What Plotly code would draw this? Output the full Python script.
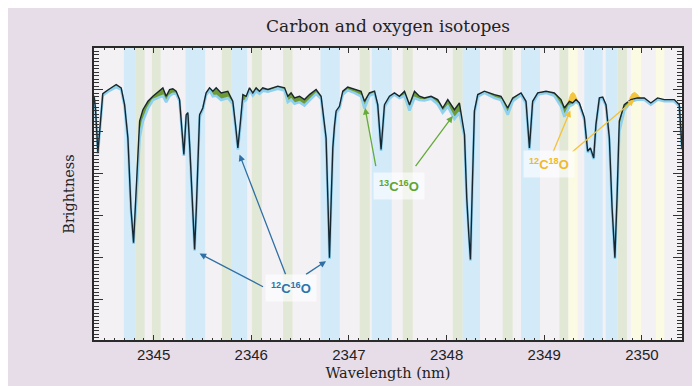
import plotly.graph_objects as go

# ---------------- data ----------------
wavelength = [
    2344.390, 2344.405, 2344.430, 2344.455, 2344.480, 2344.532, 2344.617, 2344.668, 2344.703, 2344.737,
    2344.768, 2344.795, 2344.814, 2344.832, 2344.857, 2344.891, 2344.942, 2344.993, 2345.061, 2345.095,
    2345.129, 2345.164, 2345.197, 2345.231, 2345.266, 2345.300, 2345.310, 2345.334, 2345.351, 2345.371,
    2345.397, 2345.420, 2345.438, 2345.453, 2345.471, 2345.504, 2345.538, 2345.573, 2345.607, 2345.641,
    2345.692, 2345.760, 2345.811, 2345.842, 2345.863, 2345.890, 2345.914, 2345.948, 2345.982, 2346.016,
    2346.050, 2346.085, 2346.118, 2346.170, 2346.221, 2346.272, 2346.341, 2346.374, 2346.408, 2346.443,
    2346.494, 2346.545, 2346.596, 2346.664, 2346.715, 2346.766, 2346.784, 2346.801, 2346.819, 2346.835,
    2346.852, 2346.869, 2346.903, 2346.937, 2346.988, 2347.057, 2347.124, 2347.159, 2347.210, 2347.262,
    2347.295, 2347.329, 2347.364, 2347.415, 2347.466, 2347.517, 2347.569, 2347.620, 2347.671, 2347.722,
    2347.773, 2347.841, 2347.909, 2347.960, 2348.012, 2348.080, 2348.131, 2348.183, 2348.206, 2348.227,
    2348.244, 2348.263, 2348.285, 2348.319, 2348.387, 2348.490, 2348.557, 2348.626, 2348.677, 2348.762,
    2348.813, 2348.848, 2348.881, 2348.933, 2349.018, 2349.103, 2349.171, 2349.206, 2349.257, 2349.291,
    2349.325, 2349.359, 2349.410, 2349.444, 2349.472, 2349.506, 2349.529, 2349.564, 2349.598, 2349.632,
    2349.666, 2349.694, 2349.723, 2349.745, 2349.768, 2349.819, 2349.886, 2349.955, 2350.024, 2350.091,
    2350.160, 2350.229, 2350.331, 2350.382, 2350.410,
]

observed = [
    0.985, 0.955, 0.850, 0.930, 0.990, 0.999, 1.012, 1.004, 0.964, 0.885,
    0.718, 0.635, 0.718, 0.806, 0.925, 0.952, 0.972, 0.984, 0.996, 1.004,
    0.984, 1.000, 1.002, 0.996, 0.976, 0.885, 0.845, 0.940, 0.945, 0.861,
    0.718, 0.619, 0.718, 0.806, 0.940, 0.956, 0.992, 1.004, 0.996, 1.004,
    0.992, 0.996, 0.972, 0.909, 0.861, 0.925, 0.988, 0.984, 1.004, 0.992,
    1.004, 0.996, 1.004, 1.000, 1.004, 1.008, 1.004, 0.984, 0.992, 0.980,
    0.984, 0.976, 0.988, 1.000, 0.984, 0.885, 0.742, 0.599, 0.742, 0.861,
    0.913, 0.949, 0.960, 0.996, 1.006, 1.000, 0.996, 0.972, 0.992, 0.996,
    0.964, 0.857, 0.964, 0.984, 0.992, 0.984, 0.996, 0.964, 0.996, 0.984,
    0.980, 0.984, 0.976, 0.956, 0.976, 0.952, 0.968, 0.893, 0.742, 0.655,
    0.595, 0.766, 0.949, 0.988, 0.996, 0.988, 0.984, 0.956, 0.980, 0.992,
    0.972, 0.861, 0.972, 0.992, 0.996, 0.992, 0.976, 0.956, 0.972, 0.968,
    0.976, 0.968, 0.933, 0.853, 0.861, 0.837, 0.917, 0.980, 0.982, 0.964,
    0.885, 0.718, 0.599, 0.742, 0.925, 0.964, 0.976, 0.980, 0.980, 0.968,
    0.980, 0.976, 0.976, 0.964, 0.860,
]

model = [
    0.982, 0.950, 0.846, 0.926, 0.986, 0.995, 1.006, 1.000, 0.960, 0.880,
    0.714, 0.632, 0.700, 0.770, 0.885, 0.925, 0.955, 0.975, 0.982, 0.985,
    0.970, 0.985, 0.990, 0.990, 0.972, 0.880, 0.842, 0.935, 0.940, 0.856,
    0.714, 0.616, 0.714, 0.800, 0.934, 0.952, 0.987, 0.998, 0.984, 0.985,
    0.975, 0.980, 0.966, 0.904, 0.857, 0.915, 0.970, 0.975, 0.998, 0.986,
    0.996, 0.990, 0.997, 0.995, 0.998, 1.002, 0.998, 0.970, 0.976, 0.966,
    0.970, 0.962, 0.974, 0.990, 0.978, 0.880, 0.738, 0.596, 0.738, 0.856,
    0.908, 0.944, 0.955, 0.988, 0.998, 0.992, 0.984, 0.955, 0.985, 0.991,
    0.960, 0.854, 0.958, 0.979, 0.988, 0.980, 0.985, 0.950, 0.980, 0.975,
    0.974, 0.978, 0.965, 0.945, 0.960, 0.930, 0.945, 0.888, 0.738, 0.650,
    0.592, 0.760, 0.944, 0.983, 0.992, 0.980, 0.975, 0.940, 0.972, 0.987,
    0.967, 0.857, 0.966, 0.988, 0.992, 0.985, 0.960, 0.935, 0.960, 0.964,
    0.972, 0.964, 0.928, 0.850, 0.857, 0.834, 0.912, 0.976, 0.978, 0.960,
    0.880, 0.714, 0.596, 0.738, 0.900, 0.950, 0.971, 0.976, 0.976, 0.964,
    0.976, 0.972, 0.972, 0.960, 0.856,
]

# 12C18O excess (yellow) patches
c18_patches = [
    {"wl": [2349.247, 2349.270, 2349.291, 2349.310, 2349.325, 2349.342],
     "low": [0.972, 0.970, 0.968, 0.972, 0.976, 0.972],
     "high": [0.972, 0.988, 0.993, 0.990, 0.982, 0.972]},
    {"wl": [2349.870, 2349.900, 2349.925, 2349.955, 2349.980],
     "low": [0.977, 0.978, 0.979, 0.980, 0.980],
     "high": [0.977, 0.990, 0.993, 0.988, 0.980]},
]

# background line windows
band_start = [2344.696, 2344.812, 2344.983, 2345.327, 2345.699, 2345.794, 2346.006, 2346.326,
              2346.709, 2347.111, 2347.234, 2347.551, 2348.063, 2348.165, 2348.574, 2348.762,
              2349.155, 2349.247, 2349.410, 2349.629, 2349.751, 2349.887, 2350.143]
band_end = [2344.812, 2344.908, 2345.072, 2345.528, 2345.794, 2345.958, 2346.108, 2346.422,
            2346.906, 2347.213, 2347.439, 2347.653, 2348.165, 2348.342, 2348.676, 2348.956,
            2349.247, 2349.342, 2349.598, 2349.751, 2349.846, 2349.990, 2350.229]
band_kind = ["12C16O", "13C16O", "13C16O", "12C16O", "13C16O", "12C16O", "13C16O", "13C16O",
             "12C16O", "13C16O", "12C16O", "13C16O", "13C16O", "12C16O", "13C16O", "12C16O",
             "13C16O", "12C18O", "12C16O", "12C16O", "13C16O", "12C18O", "12C18O"]

tick_values = [2345, 2346, 2347, 2348, 2349, 2350]
tick_labels = ["2345", "2346", "2347", "2348", "2349", "2350"]

# label positions and arrow (tail -> head) in data units
labels = [
    {"text": "<sup>12</sup>C<sup>16</sup>O", "kind": "12C16O", "x": 2346.41, "y": 0.528,
     "arrows": [((2346.136, 0.528), (2345.471, 0.609)),
                ((2346.357, 0.556), (2345.880, 0.845)),
                ((2346.545, 0.557), (2346.766, 0.591))]},
    {"text": "<sup>13</sup>C<sup>16</sup>O", "kind": "13C16O", "x": 2347.51, "y": 0.771,
     "arrows": [((2347.278, 0.814), (2347.165, 0.956)),
                ((2347.671, 0.814), (2348.063, 0.937))]},
    {"text": "<sup>12</sup>C<sup>18</sup>O", "kind": "12C18O", "x": 2349.05, "y": 0.823,
     "arrows": [((2349.086, 0.849), (2349.267, 0.950)),
                ((2349.273, 0.849), (2349.922, 0.976))]},
]

# ---------------- styling ----------------
band_colors = {"12C16O": "#d3eaf9", "13C16O": "#e1e8d5", "12C18O": "#fbfbe4"}
label_colors = {"12C16O": "#2b73ad", "13C16O": "#5ea52f", "12C18O": "#f0b92a"}
arrow_colors = {"12C16O": "#2f6fa3", "13C16O": "#66ab3a", "12C18O": "#f2c23a"}

fig = go.Figure()

fig.add_trace(go.Scatter(x=wavelength, y=observed, mode="lines",
                         line=dict(width=0, color="rgba(0,0,0,0)"),
                         hoverinfo="skip", showlegend=False))
fig.add_trace(go.Scatter(x=wavelength, y=model, mode="lines", fill="tonexty",
                         fillcolor="#6d9a34", line=dict(width=2.6, color="#8fd0ee"),
                         hoverinfo="skip", showlegend=False))

for p in c18_patches:
    fig.add_trace(go.Scatter(x=p["wl"], y=p["low"], mode="lines",
                             line=dict(width=0, color="rgba(0,0,0,0)"),
                             hoverinfo="skip", showlegend=False))
    fig.add_trace(go.Scatter(x=p["wl"], y=p["high"], mode="lines", fill="tonexty",
                             fillcolor="#f4c640", line=dict(width=1, color="#f4c640"),
                             hoverinfo="skip", showlegend=False))

fig.add_trace(go.Scatter(x=wavelength, y=observed, mode="lines",
                         line=dict(width=1.4, color="#17262f"),
                         hoverinfo="skip", showlegend=False))

shapes = []
for s, e, k in zip(band_start, band_end, band_kind):
    shapes.append(dict(type="rect", xref="x", yref="paper", x0=s, x1=e, y0=0, y1=1,
                       fillcolor=band_colors[k], line=dict(width=0), layer="below"))

annotations = []
for lab in labels:
    c = arrow_colors[lab["kind"]]
    for (tx, ty), (hx, hy) in lab["arrows"]:
        annotations.append(dict(x=hx, y=hy, ax=tx, ay=ty, xref="x", yref="y",
                                axref="x", ayref="y", text="", showarrow=True,
                                arrowhead=2, arrowsize=1, arrowwidth=1.3, arrowcolor=c,
                                standoff=0, startstandoff=0))
    annotations.append(dict(x=lab["x"], y=lab["y"], xref="x", yref="y", text="<b>" + lab["text"] + "</b>",
                            showarrow=False, font=dict(family="Liberation Sans, Arial", size=13,
                                                       color=label_colors[lab["kind"]]),
                            bgcolor="rgba(255,255,255,0.6)", borderpad=5))

fig.update_layout(
    width=700, height=386,
    paper_bgcolor="#e7dde9", plot_bgcolor="#f3f1f4",
    margin=dict(l=86, r=26, t=40, b=54),
    title=dict(text="Carbon and oxygen isotopes", x=0.543, xanchor="center",
               y=0.952, yanchor="middle", yref="container",
               font=dict(family="DejaVu Serif", size=17, color="#222222")),
    shapes=shapes, annotations=annotations, showlegend=False,
)

fig.update_xaxes(range=[2344.39, 2350.41], tickvals=tick_values, ticktext=tick_labels,
                 ticks="inside", ticklen=5, tickwidth=1, tickcolor="#333",
                 minor=dict(dtick=0.1, tick0=2345, ticks="inside", ticklen=2, tickcolor="#333"),
                 showline=True, linecolor="#2a2a2a", linewidth=1.5, mirror="allticks",
                 showgrid=False, zeroline=False,
                 tickfont=dict(family="Liberation Sans, Arial", size=15, color="#222"),
                 title=dict(text="Wavelength (nm)", standoff=6,
                            font=dict(family="DejaVu Serif", size=14.5, color="#222")))
fig.update_yaxes(range=[0.403, 1.099], tick0=1.0, dtick=0.1, ticks="inside", ticklen=9,
                 tickwidth=1, tickcolor="#333", showticklabels=False,
                 minor=dict(dtick=0.1 / 12, tick0=1.0, ticks="inside", ticklen=5, tickcolor="#333"),
                 showline=True, linecolor="#2a2a2a", linewidth=1.5, mirror="allticks",
                 showgrid=False, zeroline=False,
                 title=dict(text="Brightness", standoff=14,
                            font=dict(family="DejaVu Serif", size=14.5, color="#222")))

fig.write_html("out.html")
